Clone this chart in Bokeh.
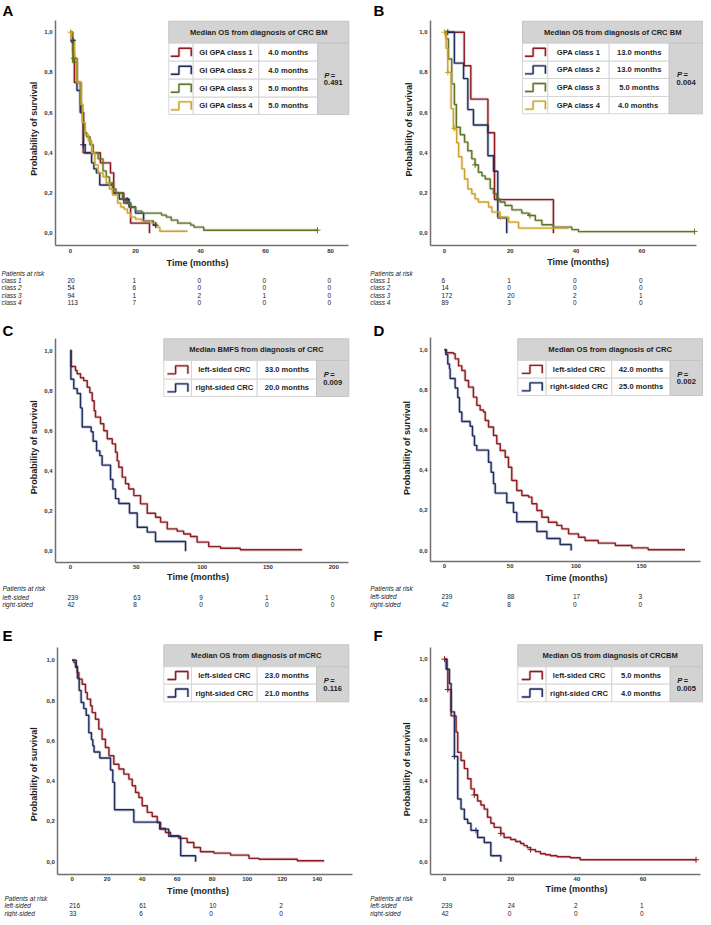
import math
from bokeh.plotting import figure
from bokeh.models import FixedTicker, CustomJSTickFormatter, Range1d
from bokeh.layouts import row, column
from bokeh.embed import file_html
from bokeh.resources import INLINE
from bokeh.core.properties import value

FONT = "Liberation Sans"
RED, BLUE, GREEN, YELLOW = "#8c1d22", "#1f2c5e", "#5e7527", "#cba22c"
HEAD_FILL, HEAD_LINE, CELL_LINE = "#d3d3d3", "#c4c4c4", "#d6d6d6"
TXT = "#1e1e1e"

# ---------------- Panel A: GI GPA classes ----------------
a_t1 = [0, 0.3, 0.7, 1.2, 3.3, 3.9, 9.2, 12.3, 13.3, 16.4, 18.5, 24.3]
a_s1 = [1.0, 0.95, 0.90, 0.75, 0.60, 0.40, 0.35, 0.30, 0.20, 0.15, 0.05, 0.0]
a_t2 = [0, 0.5, 1.0, 2.0, 3.0, 4.0, 4.5, 6.5, 7.2, 8.0, 9.0, 13.0, 15.0, 18.0, 20.0, 22.5, 25.5, 26.2]
a_s2 = [1.0, 0.96, 0.87, 0.71, 0.60, 0.44, 0.40, 0.35, 0.32, 0.30, 0.24, 0.20, 0.17, 0.13, 0.10, 0.06, 0.04, 0.04]
a_t3 = [0, 0.7, 2.0, 3.0, 3.7, 4.3, 5.0, 6.0, 7.0, 8.5, 10.0, 11.0, 12.0, 13.0, 14.0, 16.0, 17.0, 18.5, 20.0, 22.0, 28.0, 29.5, 31.0, 33.0, 37.0, 38.0, 41.0, 76.0]
a_s3 = [1.0, 0.85, 0.75, 0.64, 0.55, 0.50, 0.48, 0.44, 0.40, 0.37, 0.31, 0.28, 0.25, 0.22, 0.20, 0.17, 0.15, 0.13, 0.11, 0.10, 0.09, 0.08, 0.065, 0.05, 0.04, 0.03, 0.015, 0.015]
a_t4 = [0, 0.3, 1.2, 2.0, 3.3, 3.7, 4.5, 5.5, 6.5, 7.5, 8.5, 10.0, 11.0, 12.0, 13.0, 14.5, 15.5, 16.5, 17.5, 18.5, 20.0, 22.0, 25.0, 26.5, 27.5, 36.0]
a_s4 = [1.0, 0.96, 0.87, 0.75, 0.64, 0.55, 0.49, 0.46, 0.40, 0.34, 0.30, 0.28, 0.25, 0.22, 0.19, 0.15, 0.13, 0.12, 0.10, 0.08, 0.07, 0.06, 0.05, 0.03, 0.01, 0.01]
a_cens_g = [3, 1, 2, 1, 1, 1, 2]
a_cens_t = [0, 0.8, 1.0, 3.9, 17.4, 26.2, 76]
a_cens_s = [1.0, 0.96, 0.87, 0.44, 0.165, 0.04, 0.015]
a_title = "Median OS from diagnosis of CRC BM"
a_groups = ["GI GPA class 1", "GI GPA class 2", "GI GPA class 3", "GI GPA class 4"]
a_medians = ["4.0 months", "4.0 months", "5.0 months", "5.0 months"]
a_p = "0.491"
a_xticks = [0, 20, 40, 60, 80]
a_risk_times = [0, 20, 40, 60, 80]
a_risk_rows = ["class 1", "class 2", "class 3", "class 4"]
a_risk_1 = [20, 1, 0, 0, 0]
a_risk_2 = [54, 6, 0, 0, 0]
a_risk_3 = [94, 1, 2, 1, 0]
a_risk_4 = [113, 7, 0, 0, 0]

# ---------------- Panel B: GPA classes ----------------
b_t1 = [0, 6.0, 8.0, 13.2, 15.2, 33.1]
b_s1 = [1.0, 0.833, 0.667, 0.5, 0.167, 0.0]
b_t2 = [0, 3.0, 5.8, 7.1, 8.8, 13.2, 14.9, 16.2, 18.9]
b_s2 = [1.0, 0.846, 0.769, 0.615, 0.538, 0.385, 0.308, 0.077, 0.0]
b_t3 = [0, 0.5, 1.2, 2.2, 3.0, 3.6, 4.8, 6.1, 7.1, 8.3, 9.3, 10.3, 11.4, 12.4, 13.9, 14.9, 15.9, 16.9, 18.4, 20.5, 23.5, 25.5, 27.6, 29.6, 33.1, 38.7, 40.7, 76.0]
b_s3 = [1.0, 0.967, 0.867, 0.743, 0.64, 0.527, 0.49, 0.453, 0.41, 0.37, 0.34, 0.303, 0.285, 0.27, 0.221, 0.196, 0.171, 0.155, 0.138, 0.116, 0.10, 0.088, 0.064, 0.042, 0.03, 0.018, 0.008, 0.008]
b_t4 = [0, 0.5, 1.0, 2.0, 2.7, 3.7, 4.3, 5.3, 6.1, 7.1, 8.3, 9.3, 10.3, 13.4, 14.4, 16.9, 19.5, 22.5, 37.7]
b_s4 = [1.0, 0.92, 0.80, 0.62, 0.52, 0.45, 0.38, 0.32, 0.27, 0.22, 0.196, 0.171, 0.155, 0.13, 0.105, 0.08, 0.055, 0.025, 0.025]
b_cens_g = [1, 3, 3, 3, 2, 3, 2, 2]
b_cens_t = [1.0, 0, 1.0, 3.0, 9.3, 17.0, 26.0, 76.0]
b_cens_s = [1.0, 1.0, 0.80, 0.52, 0.34, 0.08, 0.088, 0.008]
b_title = "Median OS from diagnosis of CRC BM"
b_groups = ["GPA class 1", "GPA class 2", "GPA class 3", "GPA class 4"]
b_medians = ["13.0 months", "13.0 months", "5.0 months", "4.0  months"]
b_p = "0.004"
b_xticks = [0, 20, 40, 60]
b_risk_times = [0, 20, 40, 60]
b_risk_rows = ["class 1", "class 2", "class 3", "class 4"]
b_risk_1 = [6, 1, 0, 0]
b_risk_2 = [14, 0, 0, 0]
b_risk_3 = [172, 20, 2, 1]
b_risk_4 = [89, 3, 0, 0]

# ---------------- Panel C: BMFS by side ----------------
c_t1 = [0, 0.5, 3.8, 5.0, 7.6, 10.0, 12.7, 14.7, 16.5, 18.0, 19.0, 22.8, 25.3, 27.9, 31.7, 34.2, 35.5, 36.7, 39.3, 41.8, 44.3, 48.1, 53.2, 58.3, 64.6, 68.4, 73.5, 81.0, 86.0, 91.2, 96.2, 105.0, 114.0, 129.0, 176.0]
c_s1 = [1.0, 0.92, 0.90, 0.884, 0.864, 0.85, 0.817, 0.79, 0.75, 0.70, 0.668, 0.635, 0.60, 0.56, 0.535, 0.493, 0.45, 0.418, 0.369, 0.336, 0.31, 0.277, 0.236, 0.189, 0.169, 0.145, 0.111, 0.10, 0.086, 0.073, 0.045, 0.023, 0.015, 0.007, 0.007]
c_t2 = [0, 0.3, 2.5, 5.1, 7.6, 8.9, 15.7, 17.2, 19.8, 22.3, 24.0, 30.4, 32.2, 34.2, 36.7, 44.8, 50.7, 58.3, 64.6, 87.4]
c_s2 = [1.0, 0.857, 0.81, 0.786, 0.714, 0.619, 0.595, 0.548, 0.50, 0.476, 0.429, 0.357, 0.31, 0.262, 0.238, 0.19, 0.119, 0.095, 0.048, 0.0]
c_title = "Median BMFS from diagnosis of CRC"
c_groups = ["left-sided CRC", "right-sided CRC"]
c_medians = ["33.0 months", "20.0 months"]
c_p = "0.009"
c_xticks = [0, 50, 100, 150, 200]
c_risk_times = [0, 50, 100, 150, 200]
c_risk_rows = ["left-sided", "right-sided"]
c_risk_1 = [239, 63, 9, 1, 0]
c_risk_2 = [42, 8, 0, 0, 0]

# ---------------- Panel D: OS from CRC by side ----------------
d_t1 = [0, 1.5, 6.8, 8.1, 10.7, 13.2, 15.7, 18.3, 22.0, 24.6, 27.1, 29.7, 31.0, 33.5, 37.3, 39.8, 42.4, 46.2, 48.7, 51.2, 55.0, 58.9, 63.9, 66.5, 70.3, 74.1, 79.1, 85.5, 89.3, 94.4, 102.0, 107.0, 117.0, 130.0, 142.6, 155.0, 183.0]
d_s1 = [1.0, 0.985, 0.98, 0.955, 0.92, 0.897, 0.847, 0.814, 0.764, 0.723, 0.70, 0.69, 0.648, 0.615, 0.573, 0.532, 0.498, 0.465, 0.415, 0.349, 0.299, 0.274, 0.266, 0.233, 0.199, 0.166, 0.141, 0.125, 0.108, 0.083, 0.066, 0.05, 0.037, 0.025, 0.013, 0.004, 0.004]
d_t2 = [0, 1.0, 2.5, 3.8, 4.3, 8.1, 10.1, 11.4, 13.2, 19.5, 21.3, 22.8, 24.6, 33.5, 35.5, 37.3, 38.6, 47.4, 52.5, 55.0, 70.3, 77.9, 88.0, 96.4]
d_s2 = [1.0, 0.976, 0.929, 0.905, 0.857, 0.81, 0.762, 0.69, 0.643, 0.619, 0.571, 0.524, 0.50, 0.44, 0.39, 0.333, 0.286, 0.238, 0.19, 0.143, 0.095, 0.06, 0.03, 0.0]
d_title = "Median OS from diagnosis of CRC"
d_groups = ["left-sided CRC", "right-sided CRC"]
d_medians = ["42.0 months", "25.0 months"]
d_p = "0.002"
d_xticks = [0, 50, 100, 150]
d_risk_times = [0, 50, 100, 150]
d_risk_rows = ["left-sided", "right-sided"]
d_risk_1 = [239, 88, 17, 3]
d_risk_2 = [42, 8, 0, 0]

# ---------------- Panel E: OS from mCRC by side ----------------
e_t1 = [0, 1.0, 1.9, 2.9, 3.8, 5.7, 7.6, 8.6, 10.5, 11.4, 13.3, 15.2, 17.1, 19.0, 21.0, 23.8, 26.7, 29.5, 32.4, 34.3, 36.2, 38.1, 40.0, 42.9, 45.7, 48.6, 50.5, 53.3, 56.2, 61.0, 65.7, 69.5, 73.3, 81.0, 90.5, 101.0, 106.7, 128.6, 144.0]
e_s1 = [1.0, 0.988, 0.964, 0.939, 0.906, 0.881, 0.84, 0.807, 0.774, 0.74, 0.707, 0.658, 0.608, 0.567, 0.526, 0.484, 0.46, 0.435, 0.41, 0.377, 0.344, 0.319, 0.278, 0.245, 0.225, 0.195, 0.165, 0.145, 0.129, 0.116, 0.096, 0.071, 0.05, 0.043, 0.033, 0.017, 0.013, 0.005, 0.005]
e_t2 = [0, 2.3, 3.0, 4.0, 5.1, 6.6, 8.0, 9.5, 11.0, 11.8, 12.5, 15.8, 21.9, 23.2, 24.2, 35.2, 50.0, 55.2, 62.0, 70.5]
e_s2 = [1.0, 0.97, 0.91, 0.85, 0.79, 0.76, 0.727, 0.64, 0.606, 0.576, 0.545, 0.515, 0.455, 0.394, 0.258, 0.197, 0.162, 0.126, 0.03, 0.0]
e_title = "Median OS from diagnosis of mCRC"
e_groups = ["left-sided CRC", "right-sided CRC"]
e_medians = ["23.0 months", "21.0 months"]
e_p = "0.116"
e_xticks = [0, 20, 40, 60, 80, 100, 120, 140]
e_risk_times = [0, 40, 80, 120]
e_risk_rows = ["left-sided", "right-sided"]
e_risk_1 = [216, 61, 10, 2]
e_risk_2 = [33, 6, 0, 0]

# ---------------- Panel F: OS from CRCBM by side ----------------
f_t1 = [0, 0.8, 1.0, 2.0, 3.5, 4.0, 5.0, 6.0, 7.0, 8.0, 9.0, 10.0, 11.0, 12.0, 13.0, 14.0, 15.0, 17.0, 18.0, 20.0, 21.5, 23.0, 24.0, 25.0, 26.0, 27.5, 29.0, 30.5, 32.0, 34.0, 38.0, 41.0, 76.0]
f_s1 = [1.0, 0.95, 0.85, 0.72, 0.64, 0.54, 0.50, 0.46, 0.41, 0.36, 0.33, 0.30, 0.28, 0.26, 0.22, 0.19, 0.17, 0.14, 0.12, 0.11, 0.10, 0.09, 0.08, 0.07, 0.06, 0.05, 0.04, 0.035, 0.03, 0.025, 0.02, 0.01, 0.01]
f_t2 = [0, 0.5, 1.5, 2.0, 3.0, 4.0, 5.0, 6.0, 7.0, 8.0, 10.0, 12.0, 14.0, 17.0]
f_s2 = [1.0, 0.95, 0.88, 0.74, 0.52, 0.31, 0.26, 0.21, 0.19, 0.155, 0.12, 0.095, 0.03, 0.0]
f_cens_g = [0, 0, 1, 0, 1, 0, 0, 0]
f_cens_t = [0, 1.0, 3.0, 9.0, 9.5, 17.0, 26.0, 76.0]
f_cens_s = [1.0, 0.85, 0.52, 0.33, 0.155, 0.14, 0.06, 0.01]
f_title = "Median OS from diagnosis of CRCBM"
f_groups = ["left-sided CRC", "right-sided CRC"]
f_medians = ["5.0 months", "4.0 months"]
f_p = "0.005"
f_xticks = [0, 20, 40, 60]
f_risk_times = [0, 20, 40, 60]
f_risk_rows = ["left-sided", "right-sided"]
f_risk_1 = [239, 24, 2, 1]
f_risk_2 = [42, 0, 0, 0]

COLS4 = [RED, BLUE, GREEN, YELLOW]
COLS2 = [RED, BLUE]

# Geometry in reference pixels.  org = reference pixel shown at the panel's top-left corner,
# size = panel size; rf = reference plot frame; axis_r = right end of the x axis line.
panels = [
    dict(letter="A", org=(0, 0), size=(355, 320), rf=(55, 348, 20, 245), axis_r=348,
         xr=(-4.615, 85.54), yr=(-0.0612, 1.0582), letter_xy=(2, 10), xticks=a_xticks,
         series=[(a_t1, a_s1), (a_t2, a_s2), (a_t3, a_s3), (a_t4, a_s4)], colors=COLS4,
         cens=(a_cens_g, a_cens_t, a_cens_s),
         title=a_title, groups=a_groups, medians=a_medians, pval=a_p,
         tcols=[168.3, 192.7, 258.3, 317.3, 348.3], trows=[20.7, 42.7, 60.7, 78.7, 96.7, 114],
         rtimes=a_risk_times, rlabels=a_risk_rows, rvals=[a_risk_1, a_risk_2, a_risk_3, a_risk_4],
         time_xy=(197, 262), ylab_xy=(33.3, 128.3), par_y=272.7, rrows_y=[280, 287.3, 294.7, 302], rlab_x=1),
    dict(letter="B", org=(362, 0), size=(348, 320), rf=(437, 710, 20, 245), axis_r=703,
         xr=(-4.255, 78.72), yr=(-0.0612, 1.0582), letter_xy=(380, 10), xticks=b_xticks,
         series=[(b_t1, b_s1), (b_t2, b_s2), (b_t3, b_s3), (b_t4, b_s4)], colors=COLS4,
         cens=(b_cens_g, b_cens_t, b_cens_s),
         title=b_title, groups=b_groups, medians=b_medians, pval=b_p,
         tcols=[529, 554.3, 615.7, 675.7, 709.5], trows=[20.7, 42.7, 60.7, 78, 96, 113.3],
         rtimes=b_risk_times, rlabels=b_risk_rows, rvals=[b_risk_1, b_risk_2, b_risk_3, b_risk_4],
         time_xy=(584.7, 261.7), ylab_xy=(415, 129), par_y=272.7, rrows_y=[280, 287.3, 295, 302], rlab_x=376.7),
    dict(letter="C", org=(0, 320), size=(355, 300), rf=(55, 348, 338.3, 561.7), axis_r=348,
         xr=(-11.40, 211.2), yr=(-0.0548, 1.0583), letter_xy=(2, 330), xticks=c_xticks,
         series=[(c_t1, c_s1), (c_t2, c_s2)], colors=COLS2, cens=([], [], []),
         title=c_title, groups=c_groups, medians=c_medians, pval=c_p,
         tcols=[163.3, 191, 256.7, 316, 348.3], trows=[338.3, 360, 378.7, 396],
         rtimes=c_risk_times, rlabels=c_risk_rows, rvals=[c_risk_1, c_risk_2],
         time_xy=(197.5, 576.7), ylab_xy=(33.3, 446.7), par_y=588, rrows_y=[596.7, 604.3], rlab_x=2),
    dict(letter="D", org=(362, 320), size=(348, 300), rf=(437, 710, 336.7, 560.7), axis_r=706.7,
         xr=(-10.65, 197.1), yr=(-0.0533, 1.0628), letter_xy=(380, 330), xticks=d_xticks,
         series=[(d_t1, d_s1), (d_t2, d_s2)], colors=COLS2, cens=([], [], []),
         title=d_title, groups=d_groups, medians=d_medians, pval=d_p,
         tcols=[524.3, 552.7, 618.3, 676.7, 709], trows=[338.3, 360, 377.7, 395],
         rtimes=d_risk_times, rlabels=d_risk_rows, rvals=[d_risk_1, d_risk_2],
         time_xy=(583, 577.3), ylab_xy=(413.3, 447.5), par_y=588.3, rrows_y=[596, 604], rlab_x=376.7),
    dict(letter="E", org=(0, 628), size=(355, 297), rf=(57.3, 351.7, 655, 881.7), axis_r=351.7,
         xr=(-8.23, 160.0), yr=(-0.0615, 1.063), letter_xy=(2, 643), xticks=e_xticks,
         series=[(e_t1, e_s1), (e_t2, e_s2)], colors=COLS2, cens=([], [], []),
         title=e_title, groups=e_groups, medians=e_medians, pval=e_p,
         tcols=[163.3, 191, 256.7, 316, 348.3], trows=[652.3, 674.3, 691.7, 709.3],
         rtimes=e_risk_times, rlabels=e_risk_rows, rvals=[e_risk_1, e_risk_2],
         time_xy=(197.5, 898.3), ylab_xy=(33.3, 781.7), par_y=905.7, rrows_y=[913.3, 921], rlab_x=4),
    dict(letter="F", org=(362, 628), size=(348, 297), rf=(437, 710, 655, 881.7), axis_r=706.7,
         xr=(-4.23, 78.25), yr=(-0.0612, 1.0577), letter_xy=(380, 643), xticks=f_xticks,
         series=[(f_t1, f_s1), (f_t2, f_s2)], colors=COLS2,
         cens=(f_cens_g, f_cens_t, f_cens_s),
         title=f_title, groups=f_groups, medians=f_medians, pval=f_p,
         tcols=[524.3, 552.7, 618.3, 676.7, 709], trows=[652.3, 674.3, 691.7, 709.3],
         rtimes=f_risk_times, rlabels=f_risk_rows, rvals=[f_risk_1, f_risk_2],
         time_xy=(583, 896), ylab_xy=(413.3, 776.7), par_y=905.7, rrows_y=[913.3, 921], rlab_x=376.7),
]


def build(cfg):
    ox, oy = cfg["org"]
    W, H = cfg["size"]
    fx0, fx1, fy0, fy1 = cfg["rf"]
    x0, x1 = cfg["xr"]
    y0, y1 = cfg["yr"]

    def X(px):
        return x0 + (px - fx0) / (fx1 - fx0) * (x1 - x0)

    def Y(py):
        return y1 - (py - fy0) / (fy1 - fy0) * (y1 - y0)

    p = figure(width=W, height=H, min_border=0,
               x_range=Range1d(X(ox), X(ox + W)), y_range=Range1d(Y(oy + H), Y(oy)),
               output_backend="svg", toolbar_location=None, outline_line_color=None,
               background_fill_color="white", border_fill_color="white")
    p.grid.visible = False

    xa, ya = p.xaxis[0], p.yaxis[0]
    for ax in (xa, ya):
        ax.axis_line_color = "#707070"
        ax.axis_line_width = 1.5
        ax.major_tick_line_color = None
        ax.minor_tick_line_color = None
        ax.major_tick_out = 0
        ax.major_tick_in = 0
        ax.minor_tick_out = 0
        ax.minor_tick_in = 0
        ax.major_label_text_font = FONT
        ax.major_label_text_font_size = "6px"
        ax.major_label_text_font_style = "bold"
        ax.major_label_text_color = "#333333"
        ax.major_label_standoff = 3
    xa.fixed_location = Y(fy1)
    xa.bounds = (X(fx0), X(cfg["axis_r"]))
    xa.ticker = FixedTicker(ticks=cfg["xticks"], minor_ticks=[])
    ya.fixed_location = X(fx0)
    ya.bounds = (Y(fy1), Y(fy0))
    ya.ticker = FixedTicker(ticks=[0, 0.2, 0.4, 0.6, 0.8, 1.0], minor_ticks=[])
    ya.formatter = CustomJSTickFormatter(code="return tick.toFixed(1).replace('.', ',');")

    # axis titles
    tkw9 = dict(text_font=value(FONT), text_font_size=value("9px"), text_font_style="bold",
                text_color=TXT, text_baseline="middle", text_align="center")
    tx, ty = cfg["time_xy"]
    p.text(x=[X(tx)], y=[Y(ty)], text=["Time (months)"], **tkw9)
    lx_, ly_ = cfg["ylab_xy"]
    p.text(x=[X(lx_)], y=[Y(ly_)], text=["Probability of survival"], angle=math.pi / 2, **tkw9)

    # survival curves
    for (t, s), col in zip(cfg["series"], cfg["colors"]):
        p.step(t, s, mode="after", line_color=col, line_width=3.2, line_alpha=0.2)
        p.step(t, s, mode="after", line_color=col, line_width=1.4)
    g, ct, cs = cfg["cens"]
    for gi, tt, ss in zip(g, ct, cs):
        p.scatter([tt], [ss], marker="cross", size=6, line_color=cfg["colors"][gi], line_width=1)

    # legend table
    tc, tr = cfg["tcols"], cfg["trows"]
    n = len(cfg["groups"])
    p.quad(left=[X(tc[0])], right=[X(tc[4])], top=[Y(tr[0])], bottom=[Y(tr[1])],
           fill_color=HEAD_FILL, line_color=HEAD_LINE, line_width=1)
    ls, rs, ts, bs = [], [], [], []
    for i in range(n):
        for j in range(3):
            ls.append(X(tc[j])); rs.append(X(tc[j + 1]))
            ts.append(Y(tr[i + 1])); bs.append(Y(tr[i + 2]))
    p.quad(left=ls, right=rs, top=ts, bottom=bs, fill_color="white", line_color=CELL_LINE, line_width=1)
    p.quad(left=[X(tc[3])], right=[X(tc[4])], top=[Y(tr[1])], bottom=[Y(tr[n + 1])],
           fill_color=HEAD_FILL, line_color=HEAD_LINE, line_width=1)

    tkw = dict(text_font=value(FONT), text_font_size=value("7.6px"), text_font_style="bold",
               text_color=TXT, text_baseline="middle")
    p.text(x=[X((tc[0] + tc[4]) / 2)], y=[Y((tr[0] + tr[1]) / 2)], text=[cfg["title"]],
           text_align="center", **tkw)
    mids = [(tr[i + 1] + tr[i + 2]) / 2 for i in range(n)]
    p.text(x=[X((tc[1] + tc[2]) / 2)] * n, y=[Y(m) for m in mids], text=cfg["groups"],
           text_align="center", **tkw)
    p.text(x=[X((tc[2] + tc[3]) / 2)] * n, y=[Y(m) for m in mids], text=cfg["medians"],
           text_align="center", **tkw)
    pc = (tc[3] + tc[4]) / 2
    pm = (tr[1] + tr[n + 1]) / 2
    p.text(x=[X(pc)], y=[Y(pm + 3.8)], text=[cfg["pval"]], text_align="center", **tkw)
    pkw = dict(tkw)
    pkw["text_font_style"] = "bold italic"
    p.text(x=[X(pc - 9)], y=[Y(pm - 3.6)], text=["P"], text_align="left", **pkw)
    p.text(x=[X(pc - 2.5)], y=[Y(pm - 3.6)], text=["="], text_align="left", **tkw)

    for i, col in enumerate(cfg["colors"]):
        cm = mids[i]
        cc = (tc[0] + tc[1]) / 2
        w, h = 20.5, 8.0
        xs = [cc - w / 2, cc - w / 2 + 0.4 * w, cc - w / 2 + 0.4 * w, cc + w / 2, cc + w / 2]
        ys = [cm + h / 2, cm + h / 2, cm - h / 2, cm - h / 2, cm + h / 2]
        p.line([X(v) for v in xs], [Y(v) for v in ys], line_color=col, line_width=3.0, line_alpha=0.2)
        p.line([X(v) for v in xs], [Y(v) for v in ys], line_color=col, line_width=1.4)

    # panel letter
    lx, ly = cfg["letter_xy"]
    p.text(x=[X(lx)], y=[Y(ly)], text=[cfg["letter"]], text_font=value(FONT),
           text_font_size=value("15px"), text_font_style="bold", text_color="#000000",
           text_baseline="middle", text_align="left")

    # patients-at-risk table
    rkw = dict(text_font=value(FONT), text_font_size=value("6.5px"), text_color="#222222",
               text_baseline="middle")
    lab_x = X(cfg["rlab_x"])
    p.text(x=[lab_x], y=[Y(cfg["par_y"])], text=["Patients at risk"], text_font_style="italic",
           text_align="left", **rkw)
    nr = len(cfg["rlabels"])
    p.text(x=[lab_x] * nr, y=[Y(v) for v in cfg["rrows_y"]], text=cfg["rlabels"],
           text_font_style="italic", text_align="left", **rkw)
    xs_, ys_, vs_ = [], [], []
    for vals, ry in zip(cfg["rvals"], cfg["rrows_y"]):
        for tt, v in zip(cfg["rtimes"], vals):
            xs_.append(tt); ys_.append(Y(ry)); vs_.append(str(v))
    p.text(x=xs_, y=ys_, text=vs_, x_offset=-3, text_align="left", **rkw)
    return p


figs = [build(c) for c in panels]
layout = column(row(figs[0], figs[1], spacing=0), row(figs[2], figs[3], spacing=0),
                row(figs[4], figs[5], spacing=0), spacing=0)

with open("out.html", "w") as fh:
    fh.write(file_html(layout, INLINE))
